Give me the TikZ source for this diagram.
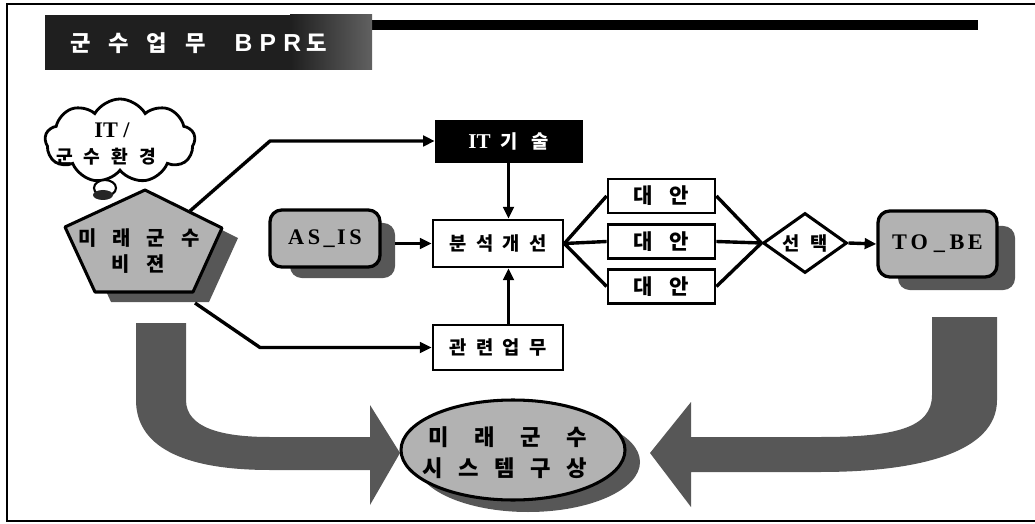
\documentclass[tikz,border=0pt]{standalone}
\usepackage{fontspec}
\setmainfont{Liberation Serif}
\newfontfamily\kr{Noto Sans CJK KR}
\newfontfamily\lsans{Liberation Sans}
\usetikzlibrary{shapes.geometric,shapes.symbols,arrows.meta}
\newdimen\pxu \pxu=0.3mm
\newcommand\chgap[1]{\hspace{#1em}}
\colorlet{lightfill}{black!30}
\colorlet{darkfill}{black!66}

\begin{document}
\begin{tikzpicture}[x=0.3mm,y=-0.3mm,
  kr/.style={font=\kr\bfseries\fontsize{#1}{#1}\selectfont},
  conn/.style={line width=2.9pt, line join=round},
  arr/.style={conn, -{Triangle[length=10pt,width=9pt]}},
  box/.style={draw, line width=2.4pt, fill=white, inner sep=0pt},
  altbox/.style={box, minimum width=107\pxu, minimum height=34\pxu, kr=18},
  card/.style={draw, line width=2.8pt, fill=lightfill, rounded corners=10pt, inner sep=0pt,
    font=\fontsize{19}{19}\selectfont\bfseries},
  cardshadow/.style={fill=darkfill, rounded corners=10pt, inner sep=0pt},
  bigarrow/.style={fill=darkfill}
]
\useasboundingbox (0,0) rectangle (1035,524);

% page frame and header rule
\draw[line width=1.6pt] (1035,4) -- (7,4) -- (7,521) -- (1035,521);
\fill (372,20) rectangle (978,30);

% title plate
\fill[black!88] (45,15) rectangle (372,70);
\shade[left color=black!88, right color=black!62] (290,15) rectangle (372,70);
\node[text=white, inner sep=0pt, anchor=west] (title) at (70,43)
  {\kr\bfseries\fontsize{19}{19}\selectfont 군\chgap{.8}수\chgap{.8}업\chgap{.8}무\chgap{1.3}{\lsans\bfseries\fontsize{21}{21}\selectfont B\chgap{.3}P\chgap{.3}R}\chgap{.25}도};

% environment thought cloud
\node[cloud, draw, line width=2.4pt, fill=white, cloud puffs=9, cloud puff arc=120,
  aspect=1.7, minimum width=150\pxu, minimum height=84\pxu, inner sep=0pt] (env) at (120,141) {};
\node[inner sep=0pt, font=\fontsize{19}{19}\selectfont\bfseries] (envtop) at (112,130) {IT /};
\node[inner sep=0pt, kr=15.5] (envbottom) at (106,157) {군\chgap{.6}수\chgap{.6}환\chgap{.6}경};
\draw[line width=1.8pt, fill=white] (105,188) ellipse (11 and 8);
\fill[black!85] (103,195) ellipse (10 and 5);

% vision pentagon with its shadow
\fill[darkfill, shift={(16,10)}] (145,190) -- (222,228) -- (193,292) -- (95,292) -- (65,227) -- cycle;
\draw[line width=2.6pt, line join=round, fill=lightfill]
  (145,190) -- (222,228) -- (193,292) -- (95,292) -- (65,227) -- cycle;
\node[inner sep=0pt, kr=17] (vision1) at (139,238) {미\chgap{.8}래\chgap{.8}군\chgap{.8}수};
\node[inner sep=0pt, kr=17] (vision2) at (138,264) {비\chgap{.85}젼};
\coordinate (v1) at (190,211);
\coordinate (v2) at (195,303);

% process boxes
\node[draw, fill=black, text=white, inner sep=0pt, minimum width=147\pxu, minimum height=42\pxu] (itbox) at (508.5,141)
  {{\fontsize{18}{18}\selectfont\bfseries IT}\chgap{.8}{\kr\bfseries\fontsize{16}{16}\selectfont 기\chgap{.75}술}};
\node[box, minimum width=130\pxu, minimum height=47\pxu, kr=16] (analysis) at (498,243.5)
  {분\chgap{.5}석\chgap{.5}개\chgap{.5}선};
\node[box, minimum width=130\pxu, minimum height=45\pxu, kr=16] (related) at (498,347.5)
  {관\chgap{.5}련\chgap{.5}업\chgap{.5}무};

% as-is and to-be cards
\node[cardshadow, minimum width=105\pxu, minimum height=55\pxu] (asissh) at (342.5,250.5) {};
\node[card, minimum width=110\pxu, minimum height=57\pxu] (asis) at (325,238.5)
  {A\kern3pt S\kern3pt\_\kern2pt I\kern3pt S};
\node[cardshadow, minimum width=117\pxu, minimum height=64\pxu] (tobesh) at (956.5,258) {};
\node[card, minimum width=119\pxu, minimum height=66\pxu] (tobe) at (937.5,244)
  {T\kern3pt O\kern5pt\_\kern4pt B\kern3pt E};

% alternatives and selection
\node[altbox] (alt1) at (661.5,196) {대\chgap{.8}안};
\node[altbox] (alt2) at (661.5,241.5) {대\chgap{.8}안};
\node[altbox] (alt3) at (661.5,286.5) {대\chgap{.8}안};
\node[draw, diamond, shape aspect=1.4, line width=2.6pt, fill=white, inner sep=0pt,
  minimum width=84\pxu, minimum height=60\pxu, kr=16] (choose) at (805,243) {선\chgap{.55}택};

% connectors
\coordinate (k1) at (270,141);
\coordinate (k2) at (260,347.5);
\draw[arr] (v1) -- (k1) -- (itbox.west);
\draw[arr] (v2) -- (k2) -- (related.west);
\draw[arr] (itbox.south) -- (itbox.south |- analysis.north);
\draw[arr] (itbox.south |- related.north) -- (itbox.south |- analysis.south);
\draw[arr] (asissh.east |- analysis.west) -- (analysis.west);
\draw[conn] (analysis.east) -- (alt1.west);
\draw[conn] (analysis.east) -- (alt2.west);
\draw[conn] (analysis.east) -- (alt3.west);
\draw[conn] (alt1.east) -- (choose.west);
\draw[conn] (alt2.east) -- (choose.west);
\draw[conn] (alt3.east) -- (choose.west);
\draw[arr] (choose.east) -- (tobe.west);

% large bent arrows toward the system plan
\fill[bigarrow] (136,323) -- (186,323) -- (186,400)
  .. controls (186,428) and (222,437) .. (270,437) -- (370,437) -- (370,405) -- (400,453)
  -- (370,505) -- (370,470) -- (270,470)
  .. controls (180,470) and (136,445) .. (136,400) -- cycle;
\fill[bigarrow] (932,317) -- (997,317) -- (997,400)
  .. controls (997,452) and (920,472) .. (820,472) -- (691,472) -- (691,507) -- (650,453)
  -- (691,402) -- (691,437) -- (820,437)
  .. controls (895,437) and (932,428) .. (932,395) -- cycle;

% system plan ellipse
\fill[darkfill] (528,462) ellipse (112 and 50);
\node[draw, ellipse, line width=2.6pt, fill=lightfill, inner sep=0pt,
  minimum width=224\pxu, minimum height=100\pxu] (plan) at (513,450) {};
\node[inner sep=0pt, kr=19] (plan1) at (508,437) {미\chgap{1.15}래\chgap{1.15}군\chgap{1.15}수};
\node[inner sep=0pt, kr=19] (plan2) at (505,468) {시\chgap{.7}스\chgap{.7}템\chgap{.7}구\chgap{.7}상};
\end{tikzpicture}
\end{document}
